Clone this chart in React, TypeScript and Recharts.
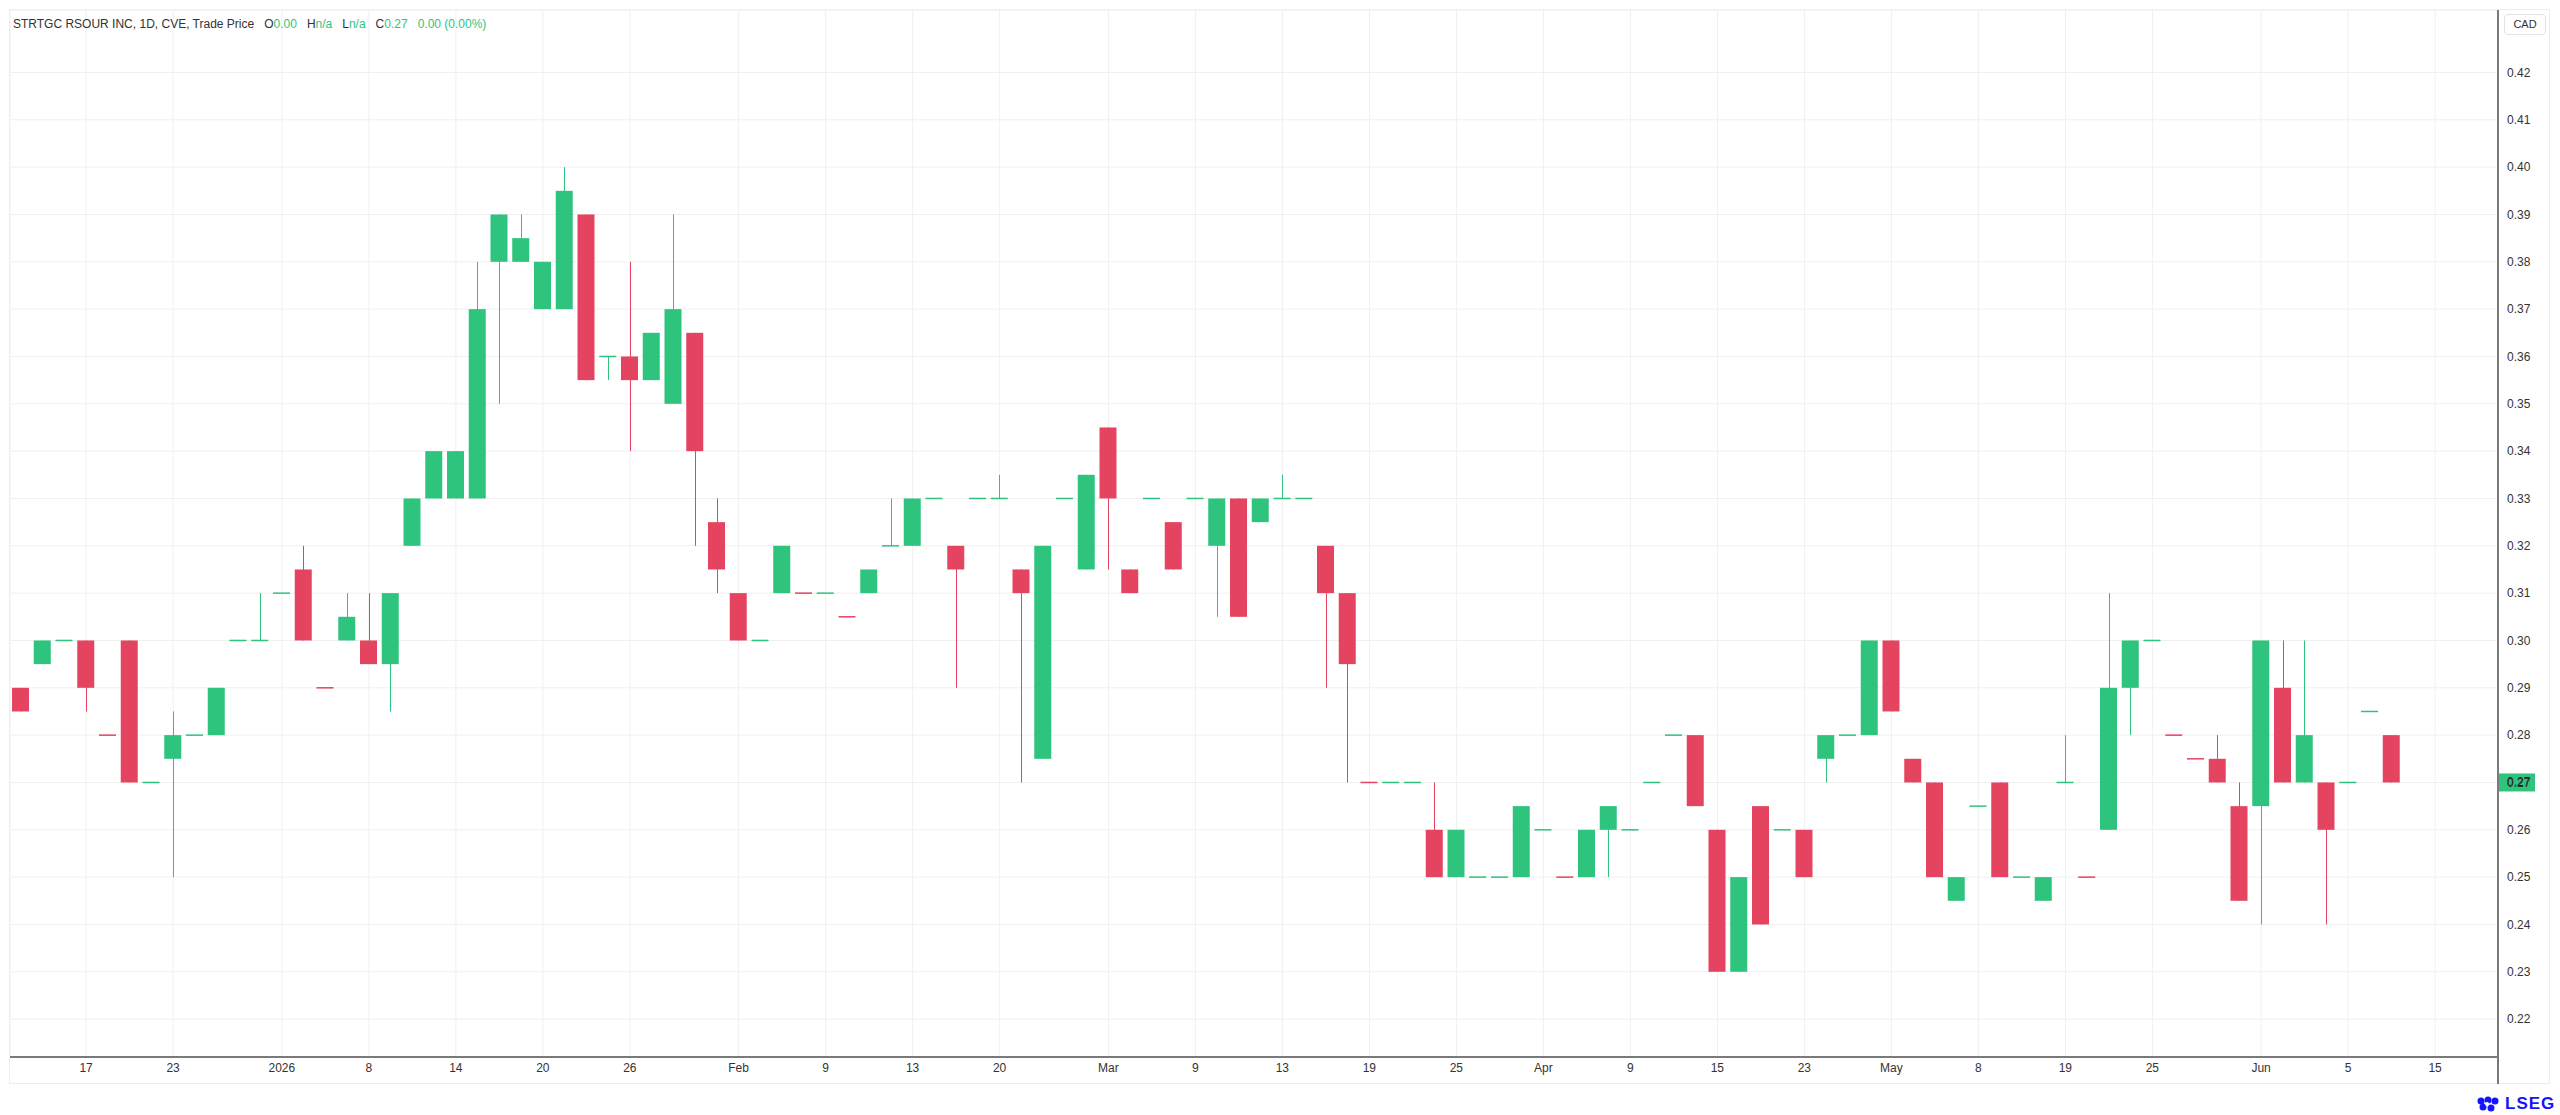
import React from "react"
import { ComposedChart, Bar, XAxis, YAxis, CartesianGrid, ReferenceLine } from "recharts"

// daily OHLC, one entry per trading day
const opens = [
  0.29, 0.295, 0.3, 0.3, 0.28, 0.3, 0.27, 0.275, 0.28, 0.28,
  0.3, 0.3, 0.31, 0.315, 0.29, 0.3, 0.3, 0.295, 0.32, 0.33,
  0.33, 0.33, 0.38, 0.38, 0.37, 0.37, 0.39, 0.36, 0.36, 0.355,
  0.35, 0.365, 0.325, 0.31, 0.3, 0.31, 0.31, 0.31, 0.305, 0.31,
  0.32, 0.32, 0.33, 0.32, 0.33, 0.33, 0.315, 0.275, 0.33, 0.315,
  0.345, 0.315, 0.33, 0.325, 0.33, 0.32, 0.33, 0.325, 0.33, 0.33,
  0.32, 0.31, 0.27, 0.27, 0.27, 0.26, 0.25, 0.25, 0.25, 0.25,
  0.26, 0.25, 0.25, 0.26, 0.26, 0.27, 0.28, 0.28, 0.26, 0.23,
  0.265, 0.26, 0.26, 0.275, 0.28, 0.28, 0.3, 0.275, 0.27, 0.245,
  0.265, 0.27, 0.25, 0.245, 0.27, 0.25, 0.26, 0.29, 0.3, 0.28,
  0.275, 0.275, 0.265, 0.265, 0.29, 0.27, 0.27, 0.27, 0.285, 0.28,
]
const highs = [
  0.29, 0.3, 0.3, 0.3, 0.28, 0.3, 0.27, 0.285, 0.28, 0.29,
  0.3, 0.31, 0.31, 0.32, 0.29, 0.31, 0.31, 0.31, 0.33, 0.34,
  0.34, 0.38, 0.39, 0.39, 0.38, 0.4, 0.39, 0.36, 0.38, 0.365,
  0.39, 0.365, 0.33, 0.31, 0.3, 0.32, 0.31, 0.31, 0.305, 0.315,
  0.33, 0.33, 0.33, 0.32, 0.33, 0.335, 0.315, 0.32, 0.33, 0.335,
  0.345, 0.315, 0.33, 0.325, 0.33, 0.33, 0.33, 0.33, 0.335, 0.33,
  0.32, 0.31, 0.27, 0.27, 0.27, 0.27, 0.26, 0.25, 0.25, 0.265,
  0.26, 0.25, 0.26, 0.265, 0.26, 0.27, 0.28, 0.28, 0.26, 0.25,
  0.265, 0.26, 0.26, 0.28, 0.28, 0.3, 0.3, 0.275, 0.27, 0.25,
  0.265, 0.27, 0.25, 0.25, 0.28, 0.25, 0.31, 0.3, 0.3, 0.28,
  0.275, 0.28, 0.27, 0.3, 0.3, 0.3, 0.27, 0.27, 0.285, 0.28,
]
const lows = [
  0.285, 0.295, 0.3, 0.285, 0.28, 0.27, 0.27, 0.25, 0.28, 0.28,
  0.3, 0.3, 0.31, 0.3, 0.29, 0.3, 0.295, 0.285, 0.32, 0.33,
  0.33, 0.33, 0.35, 0.38, 0.37, 0.37, 0.355, 0.355, 0.34, 0.355,
  0.35, 0.32, 0.31, 0.3, 0.3, 0.31, 0.31, 0.31, 0.305, 0.31,
  0.32, 0.32, 0.33, 0.29, 0.33, 0.33, 0.27, 0.275, 0.33, 0.315,
  0.315, 0.31, 0.33, 0.315, 0.33, 0.305, 0.305, 0.325, 0.33, 0.33,
  0.29, 0.27, 0.27, 0.27, 0.27, 0.25, 0.25, 0.25, 0.25, 0.25,
  0.26, 0.25, 0.25, 0.25, 0.26, 0.27, 0.28, 0.265, 0.23, 0.23,
  0.24, 0.26, 0.25, 0.27, 0.28, 0.28, 0.285, 0.27, 0.25, 0.245,
  0.265, 0.25, 0.25, 0.245, 0.27, 0.25, 0.26, 0.28, 0.3, 0.28,
  0.275, 0.27, 0.245, 0.24, 0.27, 0.27, 0.24, 0.27, 0.285, 0.27,
]
const closes = [
  0.285, 0.3, 0.3, 0.29, 0.28, 0.27, 0.27, 0.28, 0.28, 0.29,
  0.3, 0.3, 0.31, 0.3, 0.29, 0.305, 0.295, 0.31, 0.33, 0.34,
  0.34, 0.37, 0.39, 0.385, 0.38, 0.395, 0.355, 0.36, 0.355, 0.365,
  0.37, 0.34, 0.315, 0.3, 0.3, 0.32, 0.31, 0.31, 0.305, 0.315,
  0.32, 0.33, 0.33, 0.315, 0.33, 0.33, 0.31, 0.32, 0.33, 0.335,
  0.33, 0.31, 0.33, 0.315, 0.33, 0.33, 0.305, 0.33, 0.33, 0.33,
  0.31, 0.295, 0.27, 0.27, 0.27, 0.25, 0.26, 0.25, 0.25, 0.265,
  0.26, 0.25, 0.26, 0.265, 0.26, 0.27, 0.28, 0.265, 0.23, 0.25,
  0.24, 0.26, 0.25, 0.28, 0.28, 0.3, 0.285, 0.27, 0.25, 0.25,
  0.265, 0.25, 0.25, 0.25, 0.27, 0.25, 0.29, 0.3, 0.3, 0.28,
  0.275, 0.27, 0.245, 0.3, 0.27, 0.28, 0.26, 0.27, 0.285, 0.27,
]
// flat days that closed down
const dojiDown = [4, 14, 36, 38, 62, 71, 95, 99, 100]
const emptySlots = 4

const tickIdx = [3, 7, 12, 16, 20, 24, 28, 33, 37, 41, 45, 50, 54, 58, 62, 66, 70, 74, 78, 82, 86, 90, 94, 98, 103, 107, 111]
const tickLabels = ["17", "23", "2026", "8", "14", "20", "26", "Feb", "9", "13", "20", "Mar", "9", "13", "19", "25", "Apr", "9", "15", "23", "May", "8", "19", "25", "Jun", "5", "15"]
const priceTicks = [0.22, 0.23, 0.24, 0.25, 0.26, 0.27, 0.28, 0.29, 0.3, 0.31, 0.32, 0.33, 0.34, 0.35, 0.36, 0.37, 0.38, 0.39, 0.4, 0.41, 0.42]

const GREEN = "#2ec47e"
const RED = "#e54460"

const rows = Array.from({ length: opens.length + emptySlots }, (_, i) =>
  i < opens.length
    ? {
        idx: i,
        o: opens[i],
        h: highs[i],
        l: lows[i],
        c: closes[i],
        up: closes[i] > opens[i] || (closes[i] === opens[i] && !dojiDown.includes(i)),
      }
    : { idx: i }
)

const lastClose = closes[closes.length - 1]

function Candle(props: any) {
  const { x, y, width, height, payload } = props
  if (!payload || payload.o == null) return null
  const { o, h, l, c, up } = payload
  const top = Math.min(y, y + height)
  const bottom = Math.max(y, y + height)
  const k = h > l ? (bottom - top) / (h - l) : 0
  const py = (v: number) => top + (h - v) * k
  const color = up ? GREEN : RED
  const cx = Math.round(x + width / 2) + 0.5
  const bTop = py(Math.max(o, c))
  const bBot = py(Math.min(o, c))
  return (
    <g>
      {h > l && <line x1={cx} x2={cx} y1={top} y2={bottom} stroke={color} strokeWidth={1} />}
      <rect
        x={x}
        y={o === c ? bTop - 0.75 : bTop}
        width={width}
        height={o === c ? 1.5 : bBot - bTop}
        fill={color}
      />
    </g>
  )
}

// price badge on the right axis, at the last close
function PriceTag(props: any) {
  const { x1, x2, y1 } = props
  if (x1 == null || x2 == null || y1 == null) return null
  const right = Math.max(x1, x2)
  return (
    <g>
      <rect x={right + 1} y={y1 - 9} width={36} height={18} fill={GREEN} />
      <text x={right + 9} y={y1 + 4} fontSize={12} fill="#1e1e1e">
        {lastClose.toFixed(2)}
      </text>
    </g>
  )
}

export default function App() {
  return (
    <div
      style={{
        position: "fixed",
        left: 0,
        top: 0,
        width: 2560,
        height: 1115,
        background: "#fff",
        fontFamily: "'Liberation Sans', Arial, sans-serif",
      }}
    >
      <div
        style={{
          position: "absolute",
          left: 9,
          top: 9,
          width: 2541,
          height: 1075,
          border: "1px solid #ededed",
          boxSizing: "border-box",
        }}
      />
      <ComposedChart width={2560} height={1115} data={rows} margin={{ top: 10, right: 0, bottom: 0, left: 10 }}>
        <CartesianGrid stroke="#f0f0f0" />
        <XAxis
          dataKey="idx"
          ticks={tickIdx}
          interval={0}
          height={58}
          padding={{ left: 0, right: 8.5 }}
          tickFormatter={(v: number) => tickLabels[tickIdx.indexOf(v)] ?? ""}
          tick={{ fill: "#333", fontSize: 12 }}
          tickLine={false}
          tickMargin={0}
          axisLine={{ stroke: "#505050", strokeWidth: 1.5 }}
        />
        <YAxis
          orientation="right"
          type="number"
          domain={[0.212, 0.4332]}
          ticks={priceTicks}
          interval={0}
          width={62}
          tickFormatter={(v: number) => v.toFixed(2)}
          tick={{ fill: "#333", fontSize: 12 }}
          tickLine={false}
          tickSize={6}
          tickMargin={3}
          axisLine={{ stroke: "#7a7a7a", strokeWidth: 2 }}
        />
        <Bar
          dataKey={(r: any) => (r.o == null ? null : [r.l, r.h])}
          barSize={17}
          shape={Candle}
          isAnimationActive={false}
        />
        <ReferenceLine y={lastClose} stroke="none" shape={PriceTag} />
      </ComposedChart>
      <div style={{ position: "absolute", left: 2497, top: 1057, width: 2, height: 27, background: "#7a7a7a" }} />
      <div style={{ position: "absolute", left: 13, top: 17, fontSize: 12, color: "#333", whiteSpace: "nowrap" }}>
        STRTGC RSOUR INC, 1D, CVE, Trade Price
        <span style={{ marginLeft: 10 }}>O</span>
        <span style={{ color: GREEN }}>0.00</span>
        <span style={{ marginLeft: 10 }}>H</span>
        <span style={{ color: GREEN }}>n/a</span>
        <span style={{ marginLeft: 10 }}>L</span>
        <span style={{ color: GREEN }}>n/a</span>
        <span style={{ marginLeft: 10 }}>C</span>
        <span style={{ color: GREEN }}>0.27</span>
        <span style={{ color: GREEN, marginLeft: 10 }}>0.00 (0.00%)</span>
      </div>
      <div
        style={{
          position: "absolute",
          left: 2504,
          top: 14,
          width: 42,
          height: 21,
          border: "1px solid #e3e3e3",
          borderRadius: 4,
          boxSizing: "border-box",
          fontSize: 11,
          color: "#333",
          textAlign: "center",
          lineHeight: "19px",
          background: "#fff",
        }}
      >
        CAD
      </div>
      <div style={{ position: "absolute", left: 2476, top: 1094, display: "flex", alignItems: "center", gap: 5 }}>
        <svg width={24} height={17} viewBox="0 0 24 17">
          <circle cx={5} cy={5} r={3.5} fill="#1414ff" />
          <circle cx={12} cy={4} r={3.5} fill="#1414ff" />
          <circle cx={19} cy={5} r={3.5} fill="#1414ff" />
          <circle cx={7} cy={11} r={3.5} fill="#1414ff" />
          <circle cx={15} cy={12} r={3.5} fill="#1414ff" />
          <circle cx={11} cy={8} r={2} fill="#ffffff" />
        </svg>
        <span style={{ color: "#1414ff", fontWeight: 700, fontSize: 17, letterSpacing: 1 }}>LSEG</span>
      </div>
    </div>
  )
}
